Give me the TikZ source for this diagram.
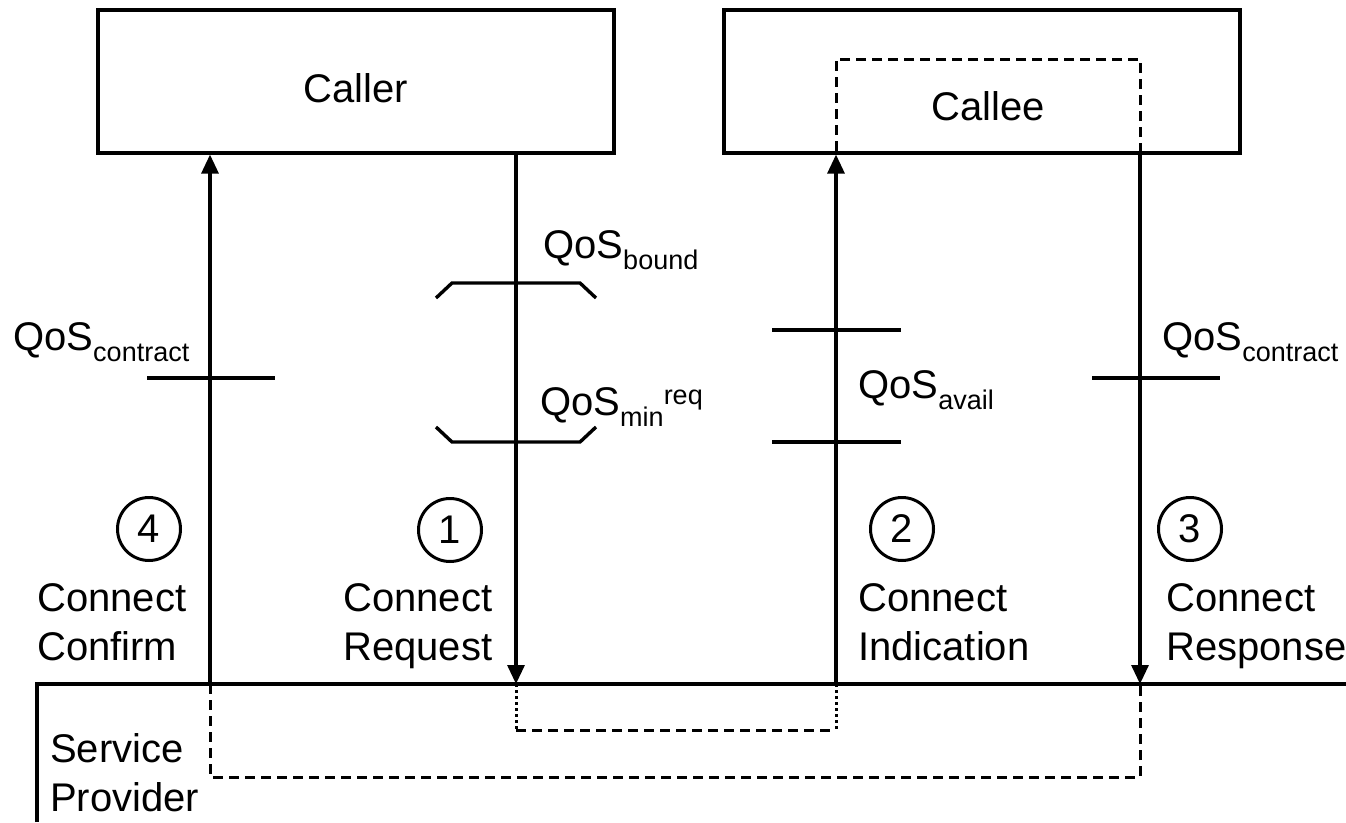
\documentclass[tikz,border=0pt]{standalone}
\usepackage{fontspec}
\setmainfont{Liberation Sans}
\usetikzlibrary{arrows.meta}
\newcommand{\subtx}[1]{\raisebox{-11pt}{\fontsize{27}{27}\selectfont #1}}
\newcommand{\suptx}[1]{\raisebox{11pt}{\fontsize{27}{27}\selectfont #1}}
\begin{document}
\begin{tikzpicture}[x=1pt,y=-1pt,
  every node/.style={font=\fontsize{40}{49}\selectfont},
  box/.style={draw, line width=3.2pt, minimum width=516pt, minimum height=143pt, inner sep=0pt},
  dbox/.style={draw, line width=3pt, dash pattern=on 10pt off 6pt, minimum width=304pt, minimum height=94pt, inner sep=0pt},
  flow/.style={line width=3.2pt, -{Triangle[length=19pt,width=17pt]}},
  tick/.style={line width=3.4pt},
  dashline/.style={line width=3pt, dash pattern=on 10pt off 6pt},
  dotline/.style={line width=3pt, dash pattern=on 2.5pt off 3.5pt},
  lbl/.style={anchor=north west, inner sep=0pt, align=left},
  qos/.style={anchor=base west, inner sep=0pt},
  num/.style={draw, circle, line width=3pt, minimum size=63pt, inner sep=0pt},
  sp/.style={line width=3.2pt}
]
\useasboundingbox (0,0) rectangle (1346,822);

% boxes
\node[box] (caller) at (356,81.5) {};
\node[inner sep=0pt] (callertxt) at (356,88) {Caller};
\node[box] (callee) at (982,81.5) {};
\node[dbox] (calleein) at (988,106) {Callee};

% service provider
\draw[sp] (37,822) -- (37,684) -- (1346,684);
\coordinate (sp4) at (210,684);
\coordinate (sp1) at (516,684);
\coordinate (sp2) at (836,684);
\coordinate (sp3) at (1140,684);
\coordinate (low4) at (210,777);
\coordinate (low3) at (1140,777);
\coordinate (mid1) at (516,730);
\coordinate (mid2) at (836,730);

% primitives
\draw[flow] (sp4) -- (caller.south -| sp4);
\draw[flow] (caller.south -| sp1) -- (sp1);
\draw[flow] (sp2) -- (callee.south -| sp2);
\draw[flow] (callee.south -| sp3) -- (sp3);

% paths through provider
\draw[dashline] (sp4) -- (low4) -- (low3) -- (sp3);
\draw[dotline] (sp1) -- (mid1);
\draw[dotline] (sp2) -- (mid2);
\draw[dashline] (mid1) -- (mid2);

% brackets around request
\draw[tick] (436,298) -- (452,283) -- (580,283) -- (596,298);
\draw[tick] (436,427) -- (452,442) -- (580,442) -- (596,427);
% ticks
\draw[tick] (147,378) -- (275,378);
\draw[tick] (772,330) -- (901,330);
\draw[tick] (772,442) -- (901,442);
\draw[tick] (1092,378) -- (1220,378);

% QoS labels
\node[qos] (qbound) at (543,258) {QoS\subtx{bound}};
\node[qos] (qmin) at (540,415) {QoS\subtx{min}\suptx{req}};
\node[qos] (qavail) at (858,398) {QoS\subtx{avail}};
\node[qos] (qconl) at (13,350) {QoS\subtx{contract}};
\node[qos] (qconr) at (1162,350) {QoS\subtx{contract}};

% numbers
\node[num] (n4) at (149,529) {4};
\node[num] (n1) at (450,530) {1};
\node[num] (n2) at (902,529) {2};
\node[num] (n3) at (1190,529) {3};

% labels
\node[lbl] (l4) at (37,583) {Connect\\Confirm};
\node[lbl] (l1) at (343,583) {Connect\\Request};
\node[lbl] (l2) at (858,583) {Connect\\Indication};
\node[lbl] (l3) at (1166,583) {Connect\\Response};
\node[lbl] (lsp) at (50,733) {Service\\Provider};
\end{tikzpicture}
\end{document}
